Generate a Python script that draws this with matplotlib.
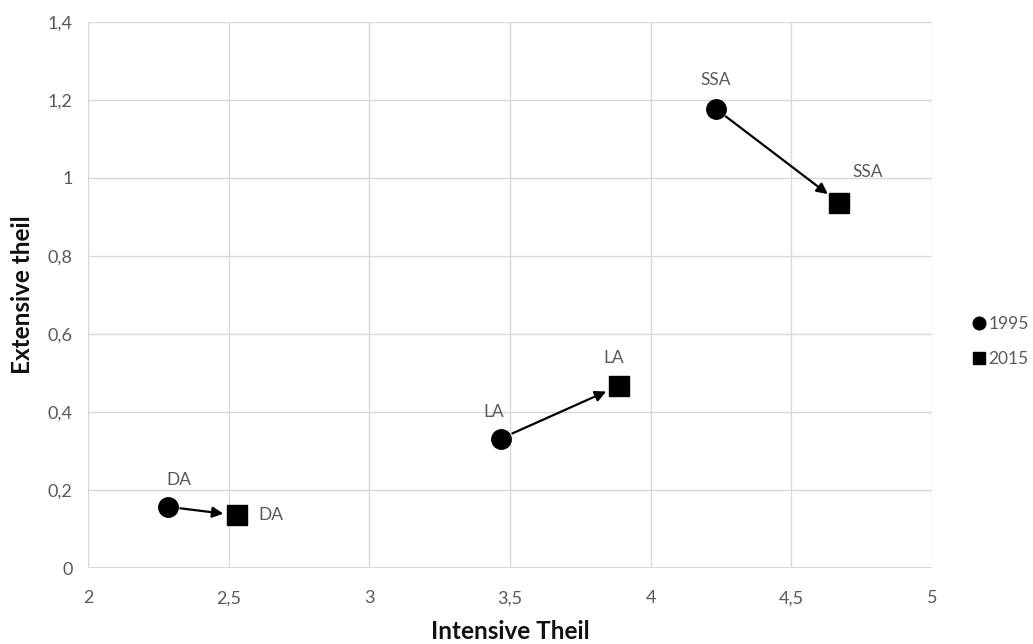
import matplotlib.pyplot as plt
from matplotlib.ticker import FuncFormatter

plt.rcParams['font.family'] = ['Lato', 'DejaVu Sans']

regions = ['DA', 'LA', 'SSA']
intensive_1995 = [2.284, 3.468, 4.232]
extensive_1995 = [0.157, 0.332, 1.177]
intensive_2015 = [2.530, 3.887, 4.669]
extensive_2015 = [0.135, 0.467, 0.937]

# label offsets (points) for each region's labels
off_1995 = [(8, 19), (-5, 19), (0, 21)]
off_2015 = [(24, 0), (-4, 20), (21, 22)]

gray = '#595959'

fig = plt.figure(figsize=(10.33, 6.44), dpi=100)
ax = fig.add_axes([0.0852, 0.118, 0.817, 0.848])

ax.plot(intensive_1995, extensive_1995, 'o', color='black', markersize=14, label='1995', zorder=3)
ax.plot(intensive_2015, extensive_2015, 's', color='black', markersize=14, label='2015', zorder=3)

for i, r in enumerate(regions):
    ax.annotate('', xy=(intensive_2015[i], extensive_2015[i]),
                xytext=(intensive_1995[i], extensive_1995[i]),
                arrowprops=dict(arrowstyle='-|>', color='black', lw=1.6,
                                mutation_scale=16, shrinkA=9, shrinkB=10),
                zorder=2)
    ax.annotate(r, (intensive_1995[i], extensive_1995[i]), xytext=off_1995[i],
                textcoords='offset points', ha='center', va='center',
                fontsize=12.5, color=gray)
    ax.annotate(r, (intensive_2015[i], extensive_2015[i]), xytext=off_2015[i],
                textcoords='offset points', ha='center', va='center',
                fontsize=12.5, color=gray)

ax.set_xlim(2, 5)
ax.set_ylim(0, 1.4)
ax.set_xticks([2, 2.5, 3, 3.5, 4, 4.5, 5])
ax.set_yticks([0, 0.2, 0.4, 0.6, 0.8, 1.0, 1.2, 1.4])
fmt = FuncFormatter(lambda v, p: ('%g' % round(v, 2)).replace('.', ','))
ax.xaxis.set_major_formatter(fmt)
ax.yaxis.set_major_formatter(fmt)
ax.tick_params(length=0, labelsize=13, labelcolor=gray)
ax.tick_params(axis='x', pad=16)
ax.tick_params(axis='y', pad=11)
ax.grid(True, color='#d9d9d9', linewidth=1)
ax.set_axisbelow(True)
for s in ax.spines.values():
    s.set_visible(False)
ax.axhline(0, color='#d9d9d9', linewidth=1.5, zorder=1)
ax.axvline(2, color='#d9d9d9', linewidth=1.5, zorder=1)

ax.set_xlabel('Intensive Theil', fontsize=17.5, fontweight='bold', color='#111111', labelpad=10)
ax.set_ylabel('Extensive theil', fontsize=17.5, fontweight='bold', color='#111111', labelpad=10)

fig.legend(loc='center left', bbox_to_anchor=(0.928, 0.47), frameon=False,
           fontsize=12.5, labelcolor=gray, markerscale=0.65, handlelength=0.6,
           handletextpad=0.2, labelspacing=1.1)

fig.savefig('out.png', dpi=100)
